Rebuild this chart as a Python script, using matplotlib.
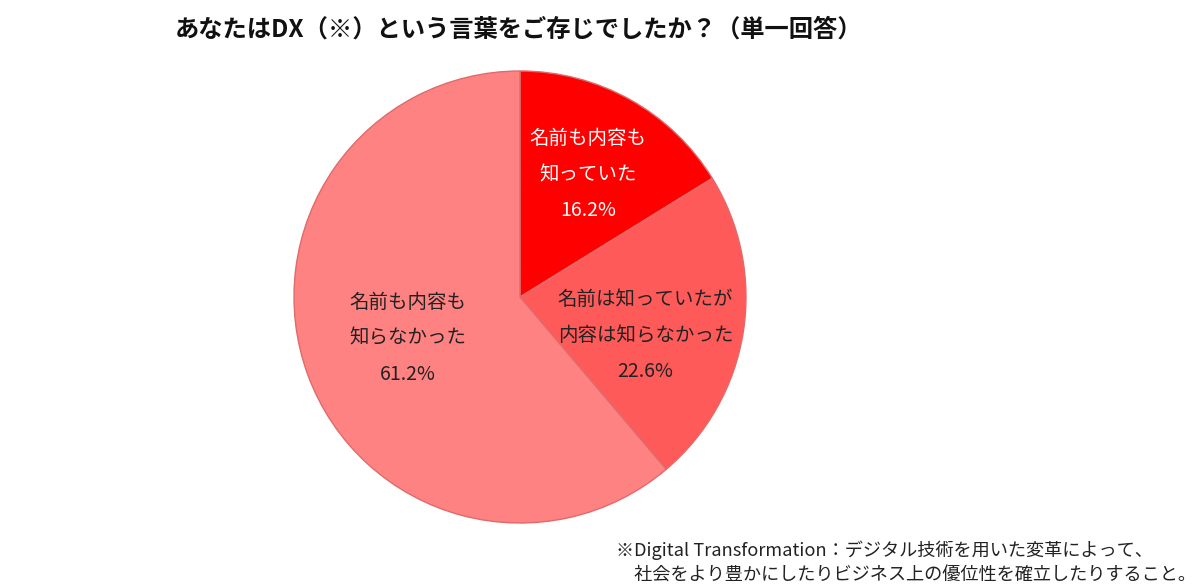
import matplotlib
matplotlib.use("Agg")
import matplotlib.pyplot as plt
import numpy as np

plt.rcParams['font.family'] = ['Noto Sans CJK JP', 'DejaVu Sans']

title = "あなたはDX（※）という言葉をご存じでしたか？（単一回答）"
categories = ["名前も内容も\n知っていた", "名前は知っていたが\n内容は知らなかった", "名前も内容も\n知らなかった"]
values = [16.2, 22.6, 61.2]
colors = ["#FF0000", "#FF5A5A", "#FF8282"]
text_colors = ["white", "#222222", "#222222"]
label_radii = [0.62, 0.58, 0.53]
angle_shift = [0, -8, 0]
footnote = ("※Digital Transformation：デジタル技術を用いた変革によって、\n"
            "　社会をより豊かにしたりビジネス上の優位性を確立したりすること。")

fig = plt.figure(figsize=(12, 5.88), dpi=100)
ax = fig.add_axes([(520 - 226) / 1200, (588 - 297 - 226) / 588, 452 / 1200, 452 / 588])
wedges, _ = ax.pie(values, colors=colors, startangle=90, counterclock=False, radius=1,
                   wedgeprops=dict(edgecolor="#e06a6a", linewidth=1.0))
ax.set_xlim(-1, 1)
ax.set_ylim(-1, 1)
ax.set_aspect('equal')
ax.axis('off')

for w, cat, v, tc, r, sh in zip(wedges, categories, values, text_colors, label_radii, angle_shift):
    ang = np.deg2rad((w.theta1 + w.theta2) / 2 + sh)
    x, y = r * np.cos(ang), r * np.sin(ang)
    ax.text(x, y, f"{cat}\n{v:.1f}%", ha='center', va='center', color=tc,
            fontsize=14, linespacing=1.95)

fig.text(175 / 1200, 1 - 30 / 588, title, ha='left', va='center', fontsize=17.5,
         fontweight='bold', color='#111111')
fig.text(616 / 1200, 1 - 563 / 588, footnote, ha='left', va='center', fontsize=13.1,
         color='#222222', linespacing=1.48)

fig.savefig("out.png", dpi=100)
